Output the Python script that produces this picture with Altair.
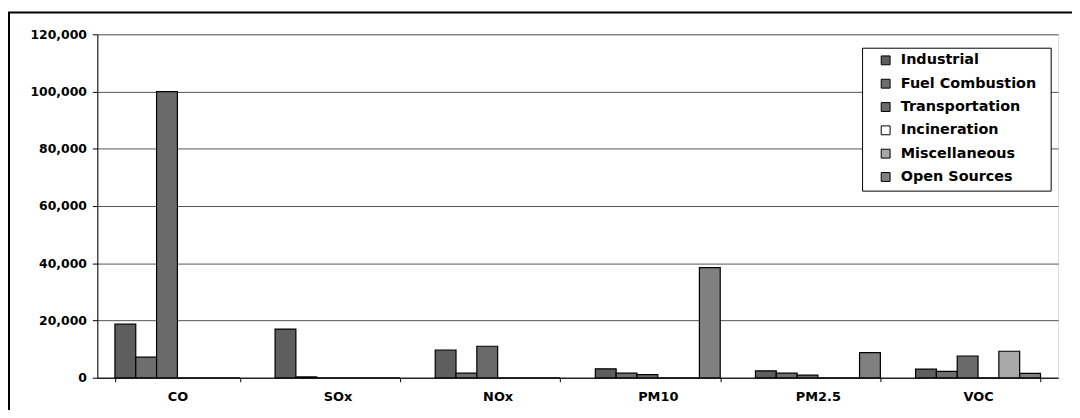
import altair as alt
import pandas as pd

pollutants = ["CO", "SOx", "NOx", "PM10", "PM2.5", "VOC"]
sources = ["Industrial", "Fuel Combustion", "Transportation", "Incineration", "Miscellaneous", "Open Sources"]
colors = ["#5e5e5e", "#6e6e6e", "#6a6a6a", "#ffffff", "#a8a8a8", "#808080"]

industrial = [18700, 17000, 9700, 3100, 2400, 3000]
fuel_combustion = [7200, 300, 1600, 1600, 1600, 2200]
transportation = [100000, 0, 11000, 1100, 900, 7600]
incineration = [0, 0, 0, 0, 0, 0]
miscellaneous = [0, 0, 0, 0, 0, 9250]
open_sources = [0, 0, 0, 38500, 8800, 1500]

series = [industrial, fuel_combustion, transportation, incineration, miscellaneous, open_sources]
rows = []
for s, vals in zip(sources, series):
    for p, v in zip(pollutants, vals):
        rows.append({"Pollutant": p, "Source": s, "Value": v})
df = pd.DataFrame(rows)

FONT = "DejaVu Sans"

bars = alt.Chart(df).mark_bar(stroke="black", strokeWidth=1.2).encode(
    x=alt.X("Pollutant:N", sort=pollutants, title=None,
            scale=alt.Scale(paddingInner=0.22, paddingOuter=0.11),
            axis=alt.Axis(labelAngle=0, tickBand="extent", labelFont=FONT, labelFontWeight="bold",
                          labelFontSize=13, labelColor="black", labelPadding=9, tickSize=4,
                          tickColor="black", domainColor="black", grid=False)),
    xOffset=alt.XOffset("Source:N", sort=sources),
    y=alt.Y("Value:Q", title=None,
            scale=alt.Scale(domain=[0, 120000], nice=False),
            axis=alt.Axis(values=[0, 20000, 40000, 60000, 80000, 100000, 120000], format=",d",
                          labelFont=FONT, labelFontWeight="bold", labelFontSize=12.5, labelColor="black",
                          tickSize=5, tickColor="black", domainColor="black", labelPadding=6,
                          gridColor="#555555", gridWidth=1)),
    color=alt.Color("Source:N", sort=sources,
                    scale=alt.Scale(domain=sources, range=colors),
                    legend=alt.Legend(title=None, orient="none", legendX=787, legendY=19,
                                      padding=0, strokeColor="transparent",
                                      labelFont=FONT, labelFontWeight="bold", labelFontSize=14.5,
                                      labelColor="black", symbolType="square", symbolSize=80,
                                      symbolStrokeColor="black", symbolStrokeWidth=1,
                                      rowPadding=8.5, labelOffset=8, labelLimit=250)),
)

legend_box = alt.Chart(pd.DataFrame({"a": [0]})).mark_rect(
    fill="white", stroke="black", strokeWidth=1
).encode(x=alt.value(771), x2=alt.value(961), y=alt.value(14), y2=alt.value(158))

frame = alt.Chart(pd.DataFrame({"a": [0]})).mark_rect(
    fill=None, stroke="black", strokeWidth=2
).encode(x=alt.value(-89), x2=alt.value(995), y=alt.value(-22), y2=alt.value(420))

chart = alt.layer(bars, legend_box, frame).properties(
    width=968, height=346,
    autosize=alt.AutoSizeParams(type="none"),
    padding={"left": 90, "top": 25, "right": 14, "bottom": 31},
).configure_view(stroke="black", strokeWidth=1.5).configure(background="white")

chart.save("out.html", embed_options={"renderer": "svg", "actions": False})
